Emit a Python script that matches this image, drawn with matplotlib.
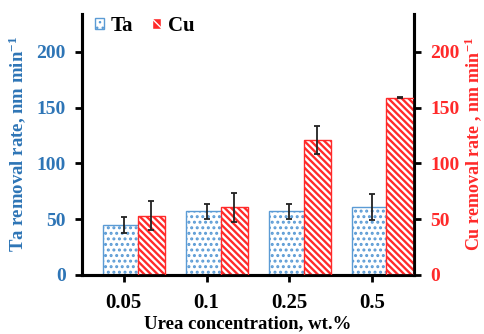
import numpy as np
import matplotlib.pyplot as plt
from matplotlib.patches import Patch

plt.rcParams['font.family'] = 'Liberation Serif'
plt.rcParams['font.weight'] = 'bold'
plt.rcParams['axes.labelweight'] = 'bold'
plt.rcParams['mathtext.fontset'] = 'custom'
plt.rcParams['mathtext.rm'] = 'Liberation Serif:bold'
plt.rcParams['mathtext.bf'] = 'Liberation Serif:bold'
plt.rcParams['mathtext.default'] = 'rm'

# data
categories = ['0.05', '0.1', '0.25', '0.5']
ta_rate = [45, 57, 57, 61]
ta_err = [7, 7, 7, 12]
cu_rate = [53, 60.5, 121, 159]
cu_err = [13, 13, 13, 0.5]

blue = '#2e75b6'
blue_edge = '#5b9bd5'
red = '#ff2a2a'

x = np.arange(len(categories))

fig, ax = plt.subplots(figsize=(4.84, 3.34), dpi=100)
ax2 = ax.twinx()

# Ta bars (primary axis), small dots
with plt.rc_context({'hatch.linewidth': 1.4}):
    ax.bar(x, ta_rate, width=0.5, facecolor='white', edgecolor=blue_edge,
           hatch='...', linewidth=1.0, zorder=2)
    ta_patch = Patch(facecolor='white', edgecolor=blue_edge, hatch='...', label='Ta')
ax.errorbar(x, ta_rate, yerr=ta_err, fmt='none', ecolor='#222222',
            elinewidth=1.3, capsize=2, capthick=1.3, zorder=3)

# Cu bars (secondary axis), drawn on top
with plt.rc_context({'hatch.linewidth': 1.7}):
    ax2.bar(x + 0.335, cu_rate, width=0.33, facecolor=red, edgecolor='white',
            hatch='\\\\\\\\\\', linewidth=0, zorder=2)
    cu_patch = Patch(facecolor=red, edgecolor='white', hatch='\\\\\\', label='Cu')
ax2.bar(x + 0.335, cu_rate, width=0.33, fill=False, edgecolor=red,
        linewidth=1.0, zorder=3)
ax2.errorbar(x + 0.335, cu_rate, yerr=cu_err, fmt='none', ecolor='#222222',
             elinewidth=1.3, capsize=2, capthick=1.3, zorder=4)

for a in (ax, ax2):
    a.set_ylim(0, 234)
    a.set_yticks([0, 50, 100, 150, 200])
    a.spines['top'].set_visible(False)
    for s in ['left', 'right', 'bottom']:
        a.spines[s].set_linewidth(2.2)
    a.tick_params(axis='y', direction='out', width=2, length=5, labelsize=14, pad=7)

ax.set_xlim(-0.5, 3.5)
ax.set_xticks(x)
ax.set_xticklabels(categories)
ax.tick_params(axis='x', direction='out', width=2, length=5, labelsize=15, pad=8)
ax.tick_params(axis='y', labelcolor=blue)
ax2.tick_params(axis='y', labelcolor=red)

ax.set_ylabel('Ta removal rate, nm min$^{-1}$', color=blue, fontsize=13.5)
ax2.set_ylabel('Cu removal rate , nm min$^{-1}$', color=red, fontsize=13)
ax.yaxis.set_label_coords(-0.196, 0.5)
ax2.yaxis.set_label_coords(1.179, 0.5)
ax.yaxis.label.set_va('center')
ax2.yaxis.label.set_va('center')
ax.set_xlabel('Urea concentration, wt.%', fontsize=13.5, labelpad=2)

ax.legend(handles=[ta_patch, cu_patch], loc='upper left', ncol=2, frameon=False,
          prop={'size': 15, 'weight': 'bold'}, handlelength=0.42,
          handleheight=0.42, handletextpad=0.35, columnspacing=0.9,
          borderaxespad=0.2, bbox_to_anchor=(0.0, 1.04))

plt.subplots_adjust(left=0.17, right=0.855, top=0.958, bottom=0.177)
plt.savefig('out.png', dpi=100)
